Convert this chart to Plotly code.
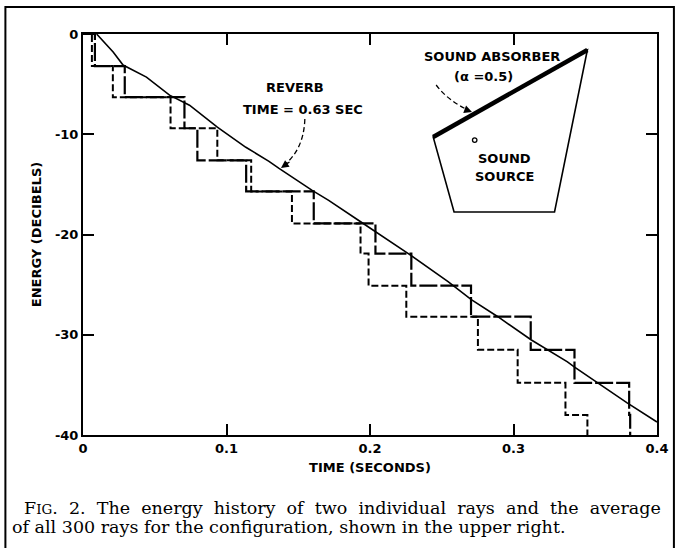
import plotly.graph_objects as go

# ---- data -------------------------------------------------------------
# energy level (dB) reached after each successive reflection
ray_a_levels = [-3.2, -6.3, -9.4, -12.6, -15.7, -18.9, -21.9, -25.1, -28.2, -31.5, -34.8, -38.0, -40.0]
ray_b_levels = [-3.2, -6.3, -9.4, -12.6, -15.7, -18.9, -21.9, -25.1, -28.2, -31.5, -34.8, -38.0, -40.0]
# arrival time (s) of each reflection
ray_a_times = [0.0083, 0.0291, 0.0707, 0.0797, 0.1137, 0.1608, 0.2038, 0.2288,
               0.2704, 0.3120, 0.3425, 0.3806, 0.3813]
ray_b_times = [0.0062, 0.0208, 0.0610, 0.0936, 0.1172, 0.1456, 0.1934, 0.1990,
               0.2253, 0.2752, 0.3029, 0.3362, 0.3515]

# average decay of all 300 rays
avg_t = [0.0095, 0.0210, 0.0279, 0.0442, 0.0603, 0.0742, 0.0936, 0.1135, 0.1296,
         0.1366, 0.1597, 0.1712, 0.1932, 0.2036, 0.2267, 0.2544, 0.2706, 0.2891,
         0.3122, 0.3376, 0.3423, 0.3792, 0.4000]
avg_db = [0.0, -1.8, -3.1, -4.3, -6.1, -7.1, -9.3, -11.3, -12.7,
          -13.4, -15.6, -16.6, -18.7, -19.7, -21.9, -24.7, -26.5, -28.2,
          -30.5, -32.7, -33.2, -36.8, -38.7]

x_ticks = [0, 0.1, 0.2, 0.3, 0.4]
x_tick_text = ["0", "0.1", "0.2", "0.3", "0.4"]
y_ticks = [0, -10, -20, -30, -40]
y_tick_text = ["0", "-10", "-20", "-30", "-40"]

caption_1 = ["F<span style='font-size:13.5px'>IG</span>.", "2.", "The", "energy", "history",
             "of", "two", "individual", "rays", "and", "the", "average"]
caption_2 = "of all 300 rays for the configuration, shown in the upper right."

# ---- layout geometry (pixels) ----------------------------------------
W, H = 681, 548
PL, PR, PT, PB = 83, 660, 34, 435


def px(x):
    return (x - PL) / (PR - PL)


def py(y):
    return (PB - y) / (PB - PT)


LETTER = "DejaVu Sans"
SERIF = "DejaVu Serif"
LSIZE = 13

fig = go.Figure()

# two individual rays as step histories
fig.add_trace(go.Scatter(
    x=[0] + ray_b_times, y=[0] + ray_b_levels, mode="lines", line_shape="hv",
    line=dict(color="black", width=2, dash="7px,3px"), showlegend=False,
    hoverinfo="skip"))
fig.add_trace(go.Scatter(
    x=[0] + ray_a_times, y=[0] + ray_a_levels, mode="lines", line_shape="hv",
    line=dict(color="black", width=2.2, dash="18px,3px"), showlegend=False,
    hoverinfo="skip"))
# average decay curve
fig.add_trace(go.Scatter(
    x=avg_t, y=avg_db, mode="lines",
    line=dict(color="black", width=1.6), showlegend=False, hoverinfo="skip"))

shapes = []
annotations = []

# inset room diagram
room = [(590, 50), (435, 137), (456, 212), (557, 212)]
path = "M " + " L ".join(f"{px(x)},{py(y)}" for x, y in room) + " Z"
shapes.append(dict(type="path", xref="paper", yref="paper", path=path,
                   line=dict(color="black", width=1.6)))
shapes.append(dict(type="line", xref="paper", yref="paper",
                   x0=px(435), y0=py(137), x1=px(590), y1=py(50),
                   line=dict(color="black", width=4.5)))
shapes.append(dict(type="circle", xref="paper", yref="paper",
                   x0=px(474.5), x1=px(479), y0=py(142.3), y1=py(137.8),
                   line=dict(color="black", width=1.3)))


# dashed leader curves
def leader(points):
    d = "M {},{}".format(px(points[0][0]), py(points[0][1]))
    d += " Q {},{} {},{}".format(px(points[1][0]), py(points[1][1]),
                                 px(points[2][0]), py(points[2][1]))
    shapes.append(dict(type="path", xref="paper", yref="paper", path=d,
                       line=dict(color="black", width=1.3, dash="5px,3px")))


leader([(306, 119), (305, 150), (284, 166)])
leader([(438, 85), (450, 101), (472, 111)])

# arrowheads at the end of each leader
for (x0, y0, x1, y1) in [(292, 161, 282, 168), (466, 109, 474, 112)]:
    annotations.append(dict(xref="paper", yref="paper", x=px(x1), y=py(y1),
                            ax=x0 - x1, ay=y0 - y1, axref="pixel", ayref="pixel",
                            text="", showarrow=True, arrowhead=2, arrowsize=1.2,
                            arrowwidth=1.3, arrowcolor="black"))

# outer frame of the figure
shapes.append(dict(type="rect", xref="paper", yref="paper",
                   x0=px(5), x1=px(677), y0=py(7), y1=py(600),
                   line=dict(color="black", width=2)))


def label(text, x, y, size=LSIZE, anchor="center", font=LETTER, weight="bold"):
    annotations.append(dict(xref="paper", yref="paper", x=px(x), y=py(y),
                            text=text, showarrow=False, xanchor=anchor,
                            yanchor="middle",
                            font=dict(family=font, size=size, color="black",
                                      weight=weight)))


label("SOUND ABSORBER", 494, 57)
label("(α =0.5)", 486, 76)
label("SOUND", 507, 158)
label("SOURCE", 507, 176)
label("REVERB", 296, 87)
label("TIME = 0.63 SEC", 304, 109)

# caption: first line justified (wider word spacing), second line set naturally
label("\u00a0 ".join(caption_1), 22, 508, size=17.5, anchor="left", font=SERIF,
      weight="normal")
label(caption_2, 10, 527, size=17.5, anchor="left", font=SERIF, weight="normal")

lfont = dict(family=LETTER, size=LSIZE, color="black", weight="bold")
axis_common = dict(showline=True, linecolor="black", linewidth=2, mirror="ticks",
                   ticks="inside", ticklen=11, tickwidth=1.5, tickcolor="black",
                   showgrid=False, zeroline=False, tickfont=lfont)

fig.update_layout(
    width=W, height=H,
    margin=dict(l=PL, r=W - PR, t=PT, b=H - PB),
    paper_bgcolor="white", plot_bgcolor="white",
    xaxis=dict(range=[0, 0.4], tickvals=x_ticks, ticktext=x_tick_text,
               title=dict(text="TIME (SECONDS)", standoff=8, font=lfont),
               **axis_common),
    yaxis=dict(range=[-40, 0], tickvals=y_ticks, ticktext=y_tick_text,
               title=dict(text="ENERGY (DECIBELS)", standoff=10, font=lfont),
               **axis_common),
    shapes=shapes, annotations=annotations,
)

fig.write_html("out.html")
